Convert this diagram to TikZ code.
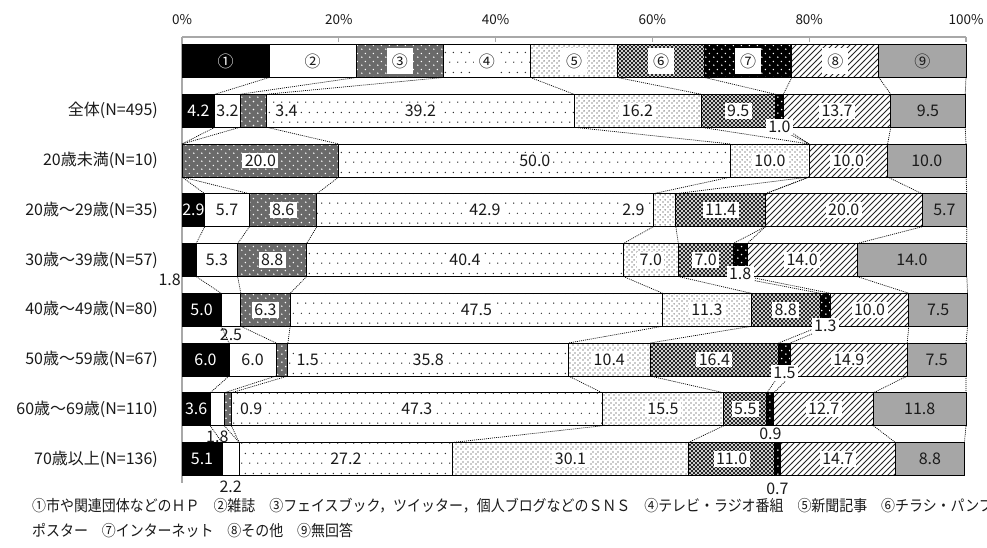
\documentclass[tikz,border=0pt]{standalone}
\usepackage{fontspec}
\setmainfont{Noto Sans CJK JP}
\newfontfamily\legfont{Noto Sans CJK JP}[FakeStretch=0.9]
\usetikzlibrary{patterns}

\pgfdeclarepatternformonly{sparsedots}{\pgfpointorigin}{\pgfpoint{8pt}{20pt}}{\pgfpoint{8pt}{20pt}}{%
  \pgfpathcircle{\pgfpoint{2pt}{5pt}}{0.75pt}%
  \pgfpathcircle{\pgfpoint{6pt}{15pt}}{0.75pt}%
  \pgfusepath{fill}}
\pgfdeclarepatternformonly{densedots}{\pgfpointorigin}{\pgfpoint{4.5pt}{4.5pt}}{\pgfpoint{4.5pt}{4.5pt}}{%
  \pgfpathcircle{\pgfpoint{1.1pt}{1.1pt}}{0.7pt}%
  \pgfpathcircle{\pgfpoint{3.35pt}{3.35pt}}{0.7pt}%
  \pgfusepath{fill}}
\pgfdeclarepatternformonly{wdots}{\pgfpointorigin}{\pgfpoint{8pt}{8pt}}{\pgfpoint{8pt}{8pt}}{%
  \pgfpathcircle{\pgfpoint{2pt}{2pt}}{0.9pt}%
  \pgfpathcircle{\pgfpoint{6pt}{6pt}}{0.9pt}%
  \pgfusepath{fill}}
\pgfdeclarepatternformonly{xhatch}{\pgfpoint{-1pt}{-1pt}}{\pgfpoint{5pt}{5pt}}{\pgfpoint{4pt}{4pt}}{%
  \pgfsetlinewidth{0.75pt}%
  \pgfpathmoveto{\pgfpoint{0pt}{0pt}}\pgfpathlineto{\pgfpoint{4.1pt}{4.1pt}}%
  \pgfpathmoveto{\pgfpoint{0pt}{4pt}}\pgfpathlineto{\pgfpoint{4.1pt}{-0.1pt}}%
  \pgfusepath{stroke}}
\pgfdeclarepatternformonly{nelines}{\pgfpoint{-1pt}{-1pt}}{\pgfpoint{7pt}{7pt}}{\pgfpoint{6pt}{6pt}}{%
  \pgfsetlinewidth{0.8pt}%
  \pgfpathmoveto{\pgfpoint{0pt}{0pt}}\pgfpathlineto{\pgfpoint{6.1pt}{6.1pt}}%
  \pgfusepath{stroke}}

\definecolor{cthree}{HTML}{6A6A6A}
\definecolor{cnine}{HTML}{A6A6A6}
\definecolor{axisgray}{HTML}{A8A8A8}
\definecolor{txt}{HTML}{1A1A1A}

\newcommand\barrow[3]{%
  \gdef\segcum{0}%
  \foreach \v [count=\i] in {#3} {%
    \pgfmathsetmacro\segxa{182+7.84*\segcum}%
    \pgfmathsetmacro\segw{7.84*\v}%
    \edef\mkseg{\noexpand\node[segbox,s\i,minimum width=\segw pt,anchor=west] (#1-\i) at (\segxa,#2) {};}%
    \mkseg
    \pgfmathsetmacro\segtmp{\segcum+\v}\xdef\segcum{\segtmp}%
  }%
}

\tikzset{
  segbox/.style={draw=black, line width=0.9pt, inner sep=0pt, outer sep=0pt, minimum height=33pt},
  s1/.style={fill=black},
  s2/.style={fill=white},
  s3/.style={preaction={fill=cthree}, pattern=wdots, pattern color=white},
  s4/.style={pattern=sparsedots, pattern color=black!80},
  s5/.style={pattern=densedots, pattern color=black!85},
  s6/.style={pattern=xhatch, pattern color=black!85},
  s7/.style={preaction={fill=black}, pattern=wdots, pattern color=white},
  s8/.style={pattern=nelines, pattern color=black!85},
  s9/.style={fill=cnine},
  series/.style={draw=black, line width=0.7pt, dash pattern=on 1pt off 1pt},
  axisline/.style={draw=axisgray, line width=1.3pt},
  lbl/.style={fill=white, inner xsep=2.5pt, inner ysep=2pt, text=txt, font=\fontsize{16}{16}\selectfont},
  lblg/.style={inner xsep=2pt, inner ysep=2pt, text=txt, font=\fontsize{16}{16}\selectfont},
  lblw/.style={inner sep=1pt, text=white, font=\fontsize{16}{16}\selectfont},
  leglbl/.style={lbl, minimum width=26pt, minimum height=26pt, inner sep=1pt},
  ticklbl/.style={text=txt, font=\fontsize{13.5}{14}\selectfont, inner sep=0pt},
  cat/.style={anchor=east, text=txt, font=\fontsize{16}{16}\selectfont, inner sep=0pt},
  legtxt/.style={anchor=west, text=txt, font=\legfont\fontsize{15.5}{15.5}\selectfont, inner sep=0pt},
}

\begin{document}
\begin{tikzpicture}[x=1pt,y=-1pt]
\useasboundingbox[fill=white] (0,0) rectangle (987,547);

% axes
\draw[axisline] (182,37) -- (966,37);
\draw[axisline] (182,37) -- (182,483);
\foreach \k in {1,...,5} \draw[axisline] ({182+156.8*\k},37) -- ({182+156.8*\k},41.5);
\foreach \k/\t in {0/0\%,1/20\%,2/40\%,3/60\%,4/80\%,5/100\%}
  \node[ticklbl] (t\k) at ({182+156.8*\k},20) {\t};

% bars
\barrow{r0}{61}{11.111,11.111,11.111,11.111,11.111,11.111,11.111,11.111,11.112}
\barrow{r1}{110.75}{4.2,3.2,3.4,39.2,16.2,9.5,1.0,13.7,9.5}
\barrow{r2}{160.5}{0,0,20.0,50.0,10.0,0,0,10.0,10.0}
\barrow{r3}{210.25}{2.9,5.7,8.6,42.9,2.9,11.4,0,20.0,5.7}
\barrow{r4}{260}{1.8,5.3,8.8,40.4,7.0,7.0,1.8,14.0,14.0}
\barrow{r5}{309.75}{5.0,2.5,6.3,47.5,11.3,8.8,1.3,10.0,7.5}
\barrow{r6}{359.5}{6.0,6.0,1.5,35.8,10.4,16.4,1.5,14.9,7.5}
\barrow{r7}{409.25}{3.6,1.8,0.9,47.3,15.5,5.5,0.9,12.7,11.8}
\barrow{r8}{459}{5.1,2.2,0,27.2,30.1,11.0,0.7,14.7,8.8}

% series lines
\foreach \a/\b in {r0/r1,r1/r2,r2/r3,r3/r4,r4/r5,r5/r6,r6/r7,r7/r8}
  \foreach \k in {1,...,9}
    \draw[series] (\a-\k.south east) -- (\b-\k.north east);

% category labels
\node[cat] (c1) at (158,110.75) {全体(N=495)};
\node[cat] (c2) at (158,160.5) {20歳未満(N=10)};
\node[cat] (c3) at (158,210.25) {20歳～29歳(N=35)};
\node[cat] (c4) at (158,260) {30歳～39歳(N=57)};
\node[cat] (c5) at (158,309.75) {40歳～49歳(N=80)};
\node[cat] (c6) at (158,359.5) {50歳～59歳(N=67)};
\node[cat] (c7) at (158,409.25) {60歳～69歳(N=110)};
\node[cat] (c8) at (158,459) {70歳以上(N=136)};

% legend bar labels
\node[lblw] (k1) at (r0-1) {①};
\node[lblg] (k2) at (r0-2) {②};
\node[leglbl] (k3) at (r0-3) {③};
\node[leglbl] (k4) at (r0-4) {④};
\node[leglbl] (k5) at (r0-5) {⑤};
\node[leglbl] (k6) at (r0-6) {⑥};
\node[leglbl] (k7) at (r0-7) {⑦};
\node[leglbl] (k8) at (r0-8) {⑧};
\node[lblg] (k9) at (r0-9) {⑨};

% row 1
\node[lblw] (a1-1) at (r1-1) {4.2};
\node[lblg] (a1-2) at (r1-2) {3.2};
\node[lbl, anchor=west] (a1-3) at ([xshift=6pt]r1-3.east) {3.4};
\node[lbl] (a1-4) at (r1-4) {39.2};
\node[lbl] (a1-5) at (r1-5) {16.2};
\node[lbl] (a1-6) at (r1-6) {9.5};
\node[lbl] (a1-7) at (r1-7.south) {1.0};
\node[lbl] (a1-8) at (r1-8) {13.7};
\node[lblg] (a1-9) at (r1-9) {9.5};

% row 2
\node[lbl] (a2-3) at (r2-3) {20.0};
\node[lbl] (a2-4) at (r2-4) {50.0};
\node[lbl] (a2-5) at (r2-5) {10.0};
\node[lbl] (a2-8) at (r2-8) {10.0};
\node[lblg] (a2-9) at (r2-9) {10.0};

% row 3
\node[lblw] (a3-1) at (r3-1) {2.9};
\node[lblg] (a3-2) at (r3-2) {5.7};
\node[lbl] (a3-3) at (r3-3) {8.6};
\node[lbl] (a3-4) at (r3-4) {42.9};
\node[lbl, anchor=east] (a3-5) at ([xshift=-6pt]r3-5.west) {2.9};
\node[lbl] (a3-6) at (r3-6) {11.4};
\node[lbl] (a3-8) at (r3-8) {20.0};
\node[lblg] (a3-9) at (r3-9) {5.7};

% row 4
\node[lblg, anchor=east, inner xsep=0pt] (a4-1) at ([xshift=-1pt,yshift=-20pt]r4-1.west) {1.8};
\node[lblg] (a4-2) at (r4-2) {5.3};
\node[lbl] (a4-3) at (r4-3) {8.8};
\node[lbl] (a4-4) at (r4-4) {40.4};
\node[lbl] (a4-5) at (r4-5) {7.0};
\node[lbl] (a4-6) at (r4-6) {7.0};
\node[lbl] (a4-7) at ([yshift=3pt]r4-7.south) {1.8};
\node[lbl] (a4-8) at (r4-8) {14.0};
\node[lblg] (a4-9) at (r4-9) {14.0};

% row 5
\node[lblw] (a5-1) at (r5-1) {5.0};
\node[lblg] (a5-2) at ([yshift=-9pt]r5-2.south) {2.5};
\node[lbl] (a5-3) at (r5-3) {6.3};
\node[lbl] (a5-4) at (r5-4) {47.5};
\node[lbl] (a5-5) at (r5-5) {11.3};
\node[lbl] (a5-6) at (r5-6) {8.8};
\node[lbl] (a5-7) at (r5-7.south) {1.3};
\node[lbl] (a5-8) at (r5-8) {10.0};
\node[lblg] (a5-9) at (r5-9) {7.5};

% row 6
\node[lblw] (a6-1) at (r6-1) {6.0};
\node[lblg] (a6-2) at (r6-2) {6.0};
\node[lbl, anchor=west] (a6-3) at ([xshift=6pt]r6-3.east) {1.5};
\node[lbl] (a6-4) at (r6-4) {35.8};
\node[lbl] (a6-5) at (r6-5) {10.4};
\node[lbl] (a6-6) at (r6-6) {16.4};
\node[lbl] (a6-7) at ([yshift=3pt]r6-7.south) {1.5};
\node[lbl] (a6-8) at (r6-8) {14.9};
\node[lblg] (a6-9) at (r6-9) {7.5};

% row 7
\node[lblw] (a7-1) at (r7-1) {3.6};
\node[lblg] (a7-2) at ([yshift=-11.5pt]r7-2.south) {1.8};
\node[lbl, anchor=west] (a7-3) at ([xshift=6pt]r7-3.east) {0.9};
\node[lbl] (a7-4) at (r7-4) {47.3};
\node[lbl] (a7-5) at (r7-5) {15.5};
\node[lbl] (a7-6) at (r7-6) {5.5};
\node[lbl] (a7-7) at ([yshift=-8pt]r7-7.south) {0.9};
\node[lbl] (a7-8) at (r7-8) {12.7};
\node[lblg] (a7-9) at (r7-9) {11.8};

% row 8
\node[lblw] (a8-1) at (r8-1) {5.1};
\node[lblg] (a8-2) at ([yshift=-11pt]r8-2.south) {2.2};
\node[lbl] (a8-4) at (r8-4) {27.2};
\node[lbl] (a8-5) at (r8-5) {30.1};
\node[lbl] (a8-6) at (r8-6) {11.0};
\node[lblg] (a8-7) at ([yshift=-13pt]r8-7.south) {0.7};
\node[lbl] (a8-8) at (r8-8) {14.7};
\node[lblg] (a8-9) at (r8-9) {8.8};

% legend text
\node[legtxt] (lg1) at (32,506) {①市や関連団体などのＨＰ　②雑誌　③フェイスブック，ツイッター，個人ブログなどのＳＮＳ　④テレビ・ラジオ番組　⑤新聞記事　⑥チラシ・パンフ};
\node[legtxt] (lg2) at (32,531) {ポスター　⑦インターネット　⑧その他　⑨無回答};
\end{tikzpicture}
\end{document}
